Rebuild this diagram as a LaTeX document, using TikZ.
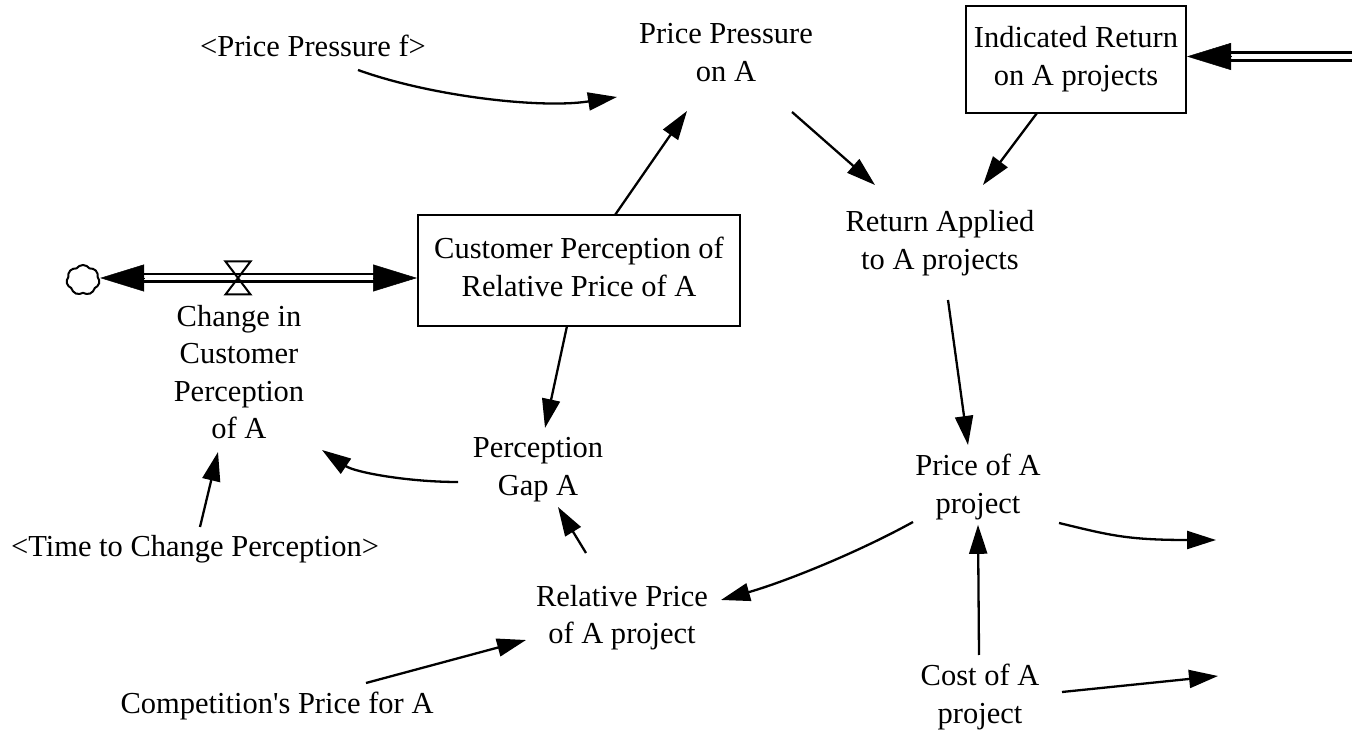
\documentclass[tikz,border=0pt]{standalone}
\usepackage{fontspec}
% plain family: no TeX ligature mapping, so ' stays a straight quote
\newfontfamily\varfont{Liberation Serif}
\usetikzlibrary{arrows.meta,calc,shapes.symbols}

% strut that gives every text line the same height and depth
\newcommand\vstrut{\rule[-7.6bp]{0pt}{32bp}}

\begin{document}
\begin{tikzpicture}[x=1bp,y=1bp,
  var/.style={inner sep=0pt, align=center,
    font=\varfont\fontsize{30.5bp}{37.5bp}\selectfont,
    execute at begin node=\vstrut, execute at end node=\vstrut},
  stock/.style={var, draw, line width=2bp, minimum width=322bp, minimum height=111bp},
  link/.style={line width=2.3bp, -{Triangle[length=29bp,width=18bp]}},
  pipe/.style={line width=2.6bp, double, double distance=5bp},
  pipetip/.style={line width=0.5bp, -{Triangle[length=44bp,width=27bp]}},
]
\useasboundingbox (0,0) rectangle (1352,731);
\fill[white] (0,0) rectangle (1352,731);

% variables
\node[var] (ppf) at (313,682.4) {<Price Pressure f>};
\node[var] (ppa) at (726,674.6) {Price Pressure\\on A};
\node[stock, minimum width=220bp, minimum height=107bp] (ira) at (1076,671.5) {Indicated Return\\on A projects};
\node[var] (rap) at (940,487.4) {Return Applied\\to A projects};
\node[stock] (cpr) at (579,460.5) {Customer Perception of\\Relative Price of A};
\node[var] (cip) at (239,355.1) {Change in\\Customer\\Perception\\of A};
\node[var] (pga) at (538,260.6) {Perception\\Gap A};
\node[var] (tcp) at (195,182.4) {<Time to Change Perception>};
\node[var] (poa) at (978,243.6) {Price of A\\project};
\node[var] (rpa) at (622,112.6) {Relative Price\\of A project};
\node[var] (cpa) at (277,26.4) {Competition's Price for A};
\node[var] (coa) at (980,33.6) {Cost of A\\project};

% flow into the stock: cloud, pipe, valve
\coordinate (valve) at (238,453);
\node[cloud, cloud puffs=7, cloud puff arc=110, cloud ignores aspect, draw, line width=2bp,
      minimum width=33bp, minimum height=30bp, inner sep=0pt] (src) at (83,451) {};
\draw[pipe] ($(src.east |- valve)+(42,0)$) -- ($(cpr.west |- valve)+(-42,0)$);
\draw[pipetip] ($(src.east |- valve)+(44,0)$) -- (src.east |- valve);
\draw[pipetip] ($(cpr.west |- valve)+(-44,0)$) -- (cpr.west |- valve);
\draw[line width=2bp, line join=miter]
  ($(valve)+(-12.5,16.5)$) -- ($(valve)+(12.5,16.5)$) --
  ($(valve)+(-12.5,-16.5)$) -- ($(valve)+(12.5,-16.5)$) -- cycle;

% inflow into Indicated Return
\coordinate (irasrc) at (1352,674.5);
\draw[pipe] (irasrc) -- ($(ira.east)+(42,3)$);
\draw[pipetip] ($(ira.east)+(44,3)$) -- ($(ira.east)+(0,3)$);

% causal links
\draw[link] ($(ppf)+(45,-21.4)$) .. controls +(72,-26) and +(-77,-12) .. ($(ppa)+(-109,-40.6)$);
\draw[link] ($(cpr)+(36,55.5)$) -- ($(ppa)+(-39,-54.6)$);
\draw[link] ($(ppa)+(66,-55.6)$) -- ($(rap)+(-65,58.6)$);
\draw[link] ($(ira)+(-39,-53.5)$) -- ($(rap)+(43,58.6)$);
\draw[link] ($(cpr)+(-12,-55.5)$) -- ($(pga)+(7,42.4)$);
\draw[link] ($(rpa)+(-36,65.4)$) -- ($(pga)+(20,-36.6)$);
\draw[link] ($(pga)+(-80,-11.6)$) .. controls +(-50,0) and +(33,-22.4) .. ($(cip)+(83,-74.1)$);
\draw[link] ($(tcp)+(5,21.6)$) -- ($(cip)+(-21,-76.1)$);
\draw[link] ($(rap)+(8,-56.4)$) -- ($(poa)+(-10,42.4)$);
\draw[link] ($(poa)+(-65,-34.6)$) .. controls +(-60,-33) and +(60,17) .. ($(rpa)+(99,18.4)$);
\coordinate (out1) at (1216,191);
\draw[link] ($(poa)+(81,-35.6)$) .. controls +(50,-12) and +(-90,0) .. (out1);
\draw[link] ($(coa)+(-1,42.4)$) -- ($(poa)+(0,-37.4)$);
\coordinate (out2) at (1218,55);
\draw[link] ($(coa)+(82,5.4)$) -- (out2);
\draw[link] ($(cpa)+(89,21.6)$) -- ($(rpa)+(-96,-21.6)$);
\end{tikzpicture}
\end{document}
